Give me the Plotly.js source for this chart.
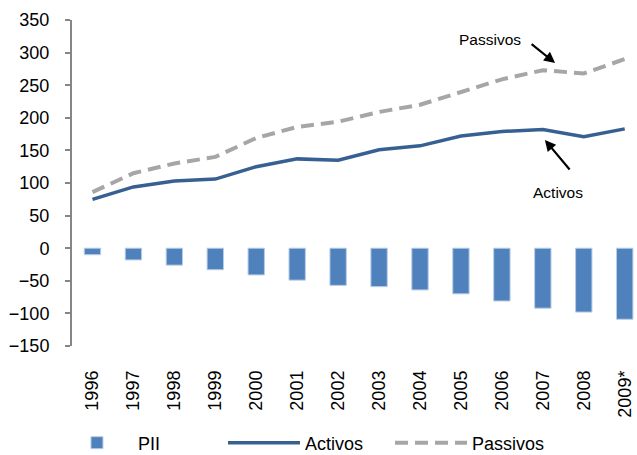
<!DOCTYPE html>
<html>
<head>
<meta charset="utf-8">
<script src="https://cdn.plot.ly/plotly-3.0.1.min.js"></script>
<style>html,body{margin:0;padding:0;background:#fff;}#chart{width:637px;height:455px;}</style>
</head>
<body>
<div id="chart"></div>
<script>
const years = ['1996','1997','1998','1999','2000','2001','2002','2003','2004','2005','2006','2007','2008','2009*'];
const pii = [-10,-18,-26,-33,-41,-49,-57,-59,-64,-70,-81,-92,-98,-109];
const activos = [75,94,103,106,125,137,135,151,157,172,179,182,171,183];
const passivos = [86,115,130,140,169,186,194,209,220,240,259,273,268,290];
const tickValsY = [-150,-100,-50,0,50,100,150,200,250,300,350];

const font = {family: '"Liberation Sans", Arial, sans-serif', size: 18, color: '#000'};

const traces = [
  {type: 'bar', name: 'PII', x: years, y: pii, width: 0.4,
   marker: {color: '#4F81BD', line: {color: '#B9CDE5', width: 1}}},
  {type: 'scatter', mode: 'lines', name: 'Activos', x: years, y: activos,
   line: {color: '#376092', width: 3.5}},
  {type: 'scatter', mode: 'lines', name: 'Passivos', x: years, y: passivos,
   line: {color: '#A6A6A6', width: 4, dash: '13px,7px'}}
];

const layout = {
  width: 637, height: 455,
  margin: {l: 72, r: 0, t: 20, b: 109, autoexpand: false},
  paper_bgcolor: '#fff', plot_bgcolor: 'rgba(0,0,0,0)',
  font: font,
  showlegend: true,
  legend: {orientation: 'h', x: 0.415, xanchor: 'center', y: -0.2975, yanchor: 'middle',
           font: {family: font.family, size: 18}, itemwidth: 72, entrywidth: 80,
           traceorder: 'normal'},
  bargap: 0.6,
  xaxis: {type: 'category', range: [-0.5, 13.3], showline: false, ticks: '', showgrid: false,
          zeroline: false, tickangle: -90, ticklabelstandoff: 20, tickfont: {size: 18}},
  xaxis2: {overlaying: 'x', anchor: 'free', position: 0.3, type: 'linear', range: [-0.5, 13.3],
           tick0: -0.5, dtick: 1, ticks: 'outside', ticklen: 5, tickwidth: 2, tickcolor: '#868686',
           showline: true, linecolor: '#868686', linewidth: 2, showticklabels: false,
           showgrid: false, zeroline: false, side: 'bottom'},
  yaxis: {range: [-150, 350], tickvals: tickValsY, ticks: 'outside', ticklen: 5, tickwidth: 2,
          tickcolor: '#868686', showline: true, linecolor: '#868686', linewidth: 2,
          showgrid: false, zeroline: false, ticklabelstandoff: 12, tickfont: {size: 18}},
  annotations: [
    {x: 9.70, y: 320, xref: 'x', yref: 'y', text: 'Passivos', showarrow: false,
     font: {family: font.family, size: 15.5}},
    {x: 11.30, y: 284, xref: 'x', yref: 'y', text: '', showarrow: true, ax: -25, ay: -20,
     arrowhead: 2, arrowsize: 1, arrowwidth: 2.2, arrowcolor: '#000'},
    {x: 11.36, y: 85, xref: 'x', yref: 'y', text: 'Activos', showarrow: false,
     font: {family: font.family, size: 15.5}},
    {x: 11.05, y: 166, xref: 'x', yref: 'y', text: '', showarrow: true, ax: 26, ay: 31,
     arrowhead: 2, arrowsize: 1, arrowwidth: 2.2, arrowcolor: '#000'}
  ]
};

Plotly.newPlot('chart', traces, layout, {displayModeBar: false, staticPlot: true});
</script>
</body>
</html>
